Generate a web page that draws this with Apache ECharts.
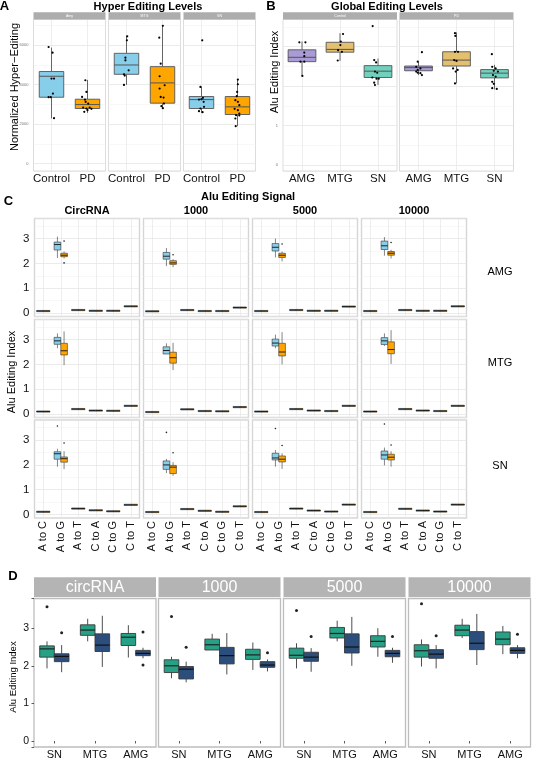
<!DOCTYPE html>
<html><head><meta charset="utf-8">
<script src="https://cdn.jsdelivr.net/npm/echarts@6/dist/echarts.min.js"></script>
<style>html,body{margin:0;padding:0;background:#fff}#c{width:533px;height:760px}</style>
</head><body><div id="c"></div>
<script>
// ---------------- DATA ----------------
// Panel A : Hyper editing levels  (box = [min, q1, median, q3, max])
const aFacets = ['Amy', 'MTG', 'SN'];
const aGroups = ['Control', 'PD'];
const aAmyBoxes = [[2290, 3360, 4420, 4660, 5870], [2570, 2790, 2990, 3260, 4235]];
const aMTGBoxes = [[3983, 4520, 4990, 5580, 6470], [2790, 3060, 4084, 4907, 6970]];
const aSNBoxes  = [[2570, 2790, 3240, 3395, 3900], [1900, 2487, 2874, 3395, 4270]];
// points: [value, jitter]
const aAmyPoints = [
  [[5900,-0.08],[5613,0.03],[4303,0],[4303,0.07],[3546,0.04],[3361,-0.08],[3361,-0.02],[2303,0.07]],
  [[4218,-0.06],[3630,-0.03],[3378,-0.15],[3244,-0.07],[3126,-0.05],[3042,0.02],[2840,-0.12],[2790,-0.03],[2840,0.06],[2622,-0.09],[2706,0],[2773,0.11]]
];
const aMTGPoints = [
  [[6437,0.02],[6235,0.01],[5361,-0.03],[5227,-0.03],[4723,0.06],[4521,-0.07],[4454,-0.05],[3983,-0.07]],
  [[6975,0.01],[6370,-0.09],[5059,-0.05],[4420,-0.08],[3966,0.06],[3798,-0.08],[3378,-0.05],[3345,0.03],[3042,0.04],[2907,-0.03],[2807,0.01]]
];
const aSNPoints = [
  [[6235,0.02],[3882,-0.03],[3244,-0.07],[3328,0.04],[3261,0],[3126,0.06],[2790,-0.03],[2655,-0.07],[2605,0.03],[2874,0.07]],
  [[4252,0.01],[4017,0.01],[3630,-0.01],[3412,-0.02],[3210,-0.06],[3126,0.01],[2958,0.05],[2773,-0.08],[2706,0.01],[2538,0.05],[2454,-0.04],[2437,0.05],[2286,-0.06],[1899,-0.05]]
];
const aTicks = [0, 2000, 4000, 6000];

// Panel B : Global editing levels
const bFacets = ['Control', 'PD'];
const bRegions = ['AMG', 'MTG', 'SN'];
const bControlBoxes = [[2.26,2.62,2.73,2.92,3.13],[2.64,2.86,2.93,3.11,3.34],[2.03,2.22,2.38,2.52,2.70]];
const bPDBoxes      = [[2.28,2.39,2.47,2.51,2.62],[2.07,2.51,2.66,2.87,3.36],[1.92,2.21,2.33,2.42,2.54]];
const bControlPoints = [
  [[3.11,-0.07],[3.11,0.09],[2.85,0.06],[2.76,0.06],[2.62,-0.04],[2.62,0.06],[2.26,0.01]],
  [[3.32,0.08],[3.13,0.02],[3.04,0.01],[2.91,-0.05],[2.87,0.05],[2.65,-0.06]],
  [[3.52,-0.14],[2.66,-0.1],[2.6,-0.05],[2.37,-0.08],[2.34,-0.02],[2.22,-0.15],[2.19,-0.04],[2.09,-0.1],[2.03,-0.08],[2.19,0.02]]
];
const bPDPoints = [
  [[2.86,0.09],[2.62,-0.02],[2.49,-0.06],[2.45,0.05],[2.41,-0.02],[2.37,-0.06],[2.33,0.05],[2.28,0.09],[2.34,-0.02]],
  [[3.34,-0.04],[3.27,-0.03],[2.87,0.04],[2.87,-0.04],[2.66,-0.06],[2.64,0],[2.45,-0.09],[2.37,-0.02],[2.41,0.03],[2.07,-0.04]],
  [[2.81,-0.07],[2.49,-0.06],[2.45,0.03],[2.39,-0.02],[2.37,0.09],[2.28,-0.04],[2.24,0.03],[2.11,-0.06],[2.06,-0.02],[1.95,-0.06],[1.93,0.06]]
];

// Panels C & D : Alu editing signal (A-to-G, Control vs PD), regions order SN, MTG, AMG
const signals = ['circRNA', '1000', '5000', '10000'];
const cColTitles = ['CircRNA', '1000', '5000', '10000'];
const dRegions = ['SN', 'MTG', 'AMG'];
const agCtrl_circRNA = [[1.93,2.23,2.45,2.53,2.65],[2.65,2.81,2.95,3.09,3.25],[2.22,2.54,2.76,2.86,3.08]];
const agPD_circRNA   = [[1.83,2.11,2.25,2.32,2.55],[1.97,2.38,2.55,2.85,3.33],[2.20,2.27,2.33,2.41,2.48]];
const agCtrl_1000    = [[1.67,1.82,2.00,2.16,2.24],[2.42,2.42,2.56,2.71,2.85],[1.89,2.17,2.29,2.44,2.62]];
const agPD_1000      = [[1.56,1.65,1.91,1.98,2.11],[1.77,2.05,2.27,2.49,2.87],[1.85,1.96,2.02,2.11,2.17]];
const agCtrl_5000    = [[1.93,2.20,2.28,2.47,2.60],[2.65,2.74,2.86,3.02,3.20],[2.24,2.50,2.65,2.80,3.00]];
const agPD_5000      = [[1.84,2.12,2.23,2.36,2.47],[2.00,2.34,2.50,2.85,3.30],[2.08,2.24,2.33,2.41,2.48]];
const agCtrl_10000   = [[1.98,2.23,2.40,2.56,2.70],[2.74,2.80,2.95,3.08,3.25],[2.31,2.56,2.71,2.90,3.06]];
const agPD_10000     = [[1.93,2.20,2.31,2.43,2.55],[2.02,2.43,2.60,2.91,3.38],[2.20,2.33,2.41,2.48,2.55]];
const outCtrl_circRNA = [[3.57],[],[]];  const outPD_circRNA = [[2.88],[],[2.90,2.02]];
const outCtrl_1000    = [[3.31],[],[]];  const outPD_1000    = [[2.49],[],[2.35]];
const outCtrl_5000    = [[3.47],[],[]];  const outPD_5000    = [[2.78],[],[2.78]];
const outCtrl_10000   = [[3.65],[],[]];  const outPD_10000   = [[2.80],[],[2.84]];

// Panel C other substitutions (A to C, A to T, C to A, C to G, C to T) per signal
const cSubs = ['A to C', 'A to G', 'A to T', 'C to A', 'C to G', 'C to T'];
const cRows = ['AMG', 'MTG', 'SN'];
const otherAMG = [[0.08,0.12,0.09,0.09,0.27],[0.07,0.12,0.08,0.08,0.22],[0.08,0.12,0.09,0.09,0.26],[0.08,0.12,0.09,0.09,0.27]];
const otherMTG = [[0.10,0.20,0.14,0.13,0.33],[0.08,0.19,0.12,0.11,0.28],[0.10,0.20,0.14,0.12,0.33],[0.10,0.20,0.14,0.12,0.33]];
const otherSN  = [[0.11,0.24,0.17,0.13,0.39],[0.10,0.22,0.15,0.11,0.33],[0.10,0.24,0.16,0.12,0.40],[0.10,0.23,0.16,0.12,0.40]];
const cAxisTicks = [0, 1, 2, 3];

// ---------------- BUILD ----------------
const FONT = "'Liberation Sans', Arial, Helvetica, sans-serif";
const grids = [], xAxes = [], yAxes = [], series = [], gfx = [];

function addPanel(rect, xCfg, yCfg, border) {
  const gi = grids.length;
  grids.push({left: rect[0], top: rect[1], width: rect[2], height: rect[3], show: true,
    backgroundColor: '#fff', borderColor: border[0], borderWidth: border[1],
    containLabel: false, outerBoundsMode: 'none'});
  xAxes.push(Object.assign({gridIndex: gi}, xCfg));
  yAxes.push(Object.assign({gridIndex: gi}, yCfg));
  return gi;
}
function boxSeries(gi, boxes, o) {
  const data = [];
  boxes.forEach((b, i) => { if (b) data.push([i].concat(b)); });
  return {type: 'custom', xAxisIndex: gi, yAxisIndex: gi, clip: false, silent: true, z: 3,
    data: data, encode: {x: 0, y: [1, 2, 3, 4, 5]},
    renderItem: function (params, api) {
      const i = api.value(0);
      const band = api.size([1, 0])[0];
      const cx = api.coord([i, 0])[0] + o.off * band;
      const w = o.w * band;
      const yy = k => api.coord([i, api.value(k)])[1];
      const lo = yy(1), q1 = yy(2), md = yy(3), q3 = yy(4), hi = yy(5);
      const fill = Array.isArray(o.fill) ? o.fill[i] : o.fill;
      const h = Math.max(q1 - q3, o.minH || 0.8);
      const top = (q1 - q3) < (o.minH || 0.8) ? md - h / 2 : q3;
      return {type: 'group', children: [
        {type: 'line', shape: {x1: cx, y1: hi, x2: cx, y2: q3}, style: {stroke: o.stroke, lineWidth: o.lw}},
        {type: 'line', shape: {x1: cx, y1: q1, x2: cx, y2: lo}, style: {stroke: o.stroke, lineWidth: o.lw}},
        {type: 'rect', shape: {x: cx - w / 2, y: top, width: w, height: h}, style: {fill: fill, stroke: o.stroke, lineWidth: o.lw}},
        {type: 'line', shape: {x1: cx - w / 2, y1: md, x2: cx + w / 2, y2: md}, style: {stroke: o.med, lineWidth: o.mlw}}
      ]};
    }};
}
function pointSeries(gi, pts, o) {
  return {type: 'custom', xAxisIndex: gi, yAxisIndex: gi, clip: false, silent: true, z: 4,
    data: pts, encode: {x: 0, y: 1},
    renderItem: function (params, api) {
      const i = api.value(0);
      const band = api.size([1, 0])[0];
      const p = api.coord([i, api.value(1)]);
      return {type: 'circle', shape: {cx: p[0] + (o.off + api.value(2)) * band, cy: p[1], r: o.r}, style: {fill: o.color}};
    }};
}
function toPts(groupPoints) {
  const out = [];
  groupPoints.forEach((list, g) => list.forEach(p => out.push([g, p[0], p[1]])));
  return out;
}
function txt(x, y, text, size, opt) {
  opt = opt || {};
  return {type: 'text', x: x, y: y, rotation: opt.rot || 0, silent: true, z: 20,
    style: {text: text, fill: opt.color || '#000', font: (opt.bold ? 'bold ' : '') + size + 'px ' + FONT,
      align: opt.align || 'center', verticalAlign: 'middle', textAlign: opt.align || 'center', textVerticalAlign: 'middle'}};
}
function rect(x, y, w, h, fill) {
  return {type: 'rect', shape: {x: x, y: y, width: w, height: h}, style: {fill: fill}, silent: true, z: 15};
}
const majorFmt = step => (v => (Math.abs(v / step - Math.round(v / step)) < 1e-6 ? String(Math.round(v)) : ''));
const gridMajor = {lineStyle: {color: '#e2e2e2', width: 0.7}};
const gridMinor = {show: true, lineStyle: {color: '#f0f0f0', width: 0.5}};

// ----- Panel A -----
const aBoxes = [aAmyBoxes, aMTGBoxes, aSNBoxes];
const aPoints = [aAmyPoints, aMTGPoints, aSNPoints];
const aLefts = [33.5, 108.5, 183.5];
aFacets.forEach((f, k) => {
  const gi = addPanel([aLefts[k], 19.5, 72, 151.5], {
    type: 'category', data: aGroups, axisLine: {show: false}, axisTick: {show: false},
    axisLabel: {fontSize: 11.5, color: '#111', margin: 2, fontFamily: FONT, interval: 0, hideOverlap: false},
    splitLine: {show: true, alignWithLabel: true, interval: 0, lineStyle: {color: '#e6e6e6', width: 0.7}}
  }, {
    type: 'value', min: -369, max: 7290, minInterval: aTicks[1], maxInterval: aTicks[1],
    axisLine: {show: false}, axisTick: {show: false},
    axisLabel: {show: k === 0, fontSize: 4, color: '#777', margin: 5, fontFamily: FONT, formatter: majorFmt(aTicks[1])},
    splitLine: gridMajor, minorTick: {show: false, splitNumber: 2}, minorSplitLine: gridMinor
  }, ['#cfcfcf', 0.7]);
  series.push(boxSeries(gi, aBoxes[k], {off: 0, w: 0.68, fill: ['#87CEEB', '#FFA500'], stroke: '#555', med: '#555', lw: 0.9, mlw: 1}));
  series.push(pointSeries(gi, toPts(aPoints[k]), {off: 0, r: 1.1, color: '#000'}));
  gfx.push(rect(aLefts[k], 12.3, 72, 7.2, '#adadad'));
  gfx.push(txt(aLefts[k] + 36, 16, f, 3.5, {color: '#fff'}));
});

// ----- Panel B -----
const bLefts = [283, 399.5];
const bBoxes = [bControlBoxes, bPDBoxes];
const bPoints = [bControlPoints, bPDPoints];
bFacets.forEach((f, k) => {
  const gi = addPanel([bLefts[k], 19.5, 114, 151.5], {
    type: 'category', data: bRegions, axisLine: {show: false}, axisTick: {show: false},
    axisLabel: {fontSize: 11.5, color: '#111', margin: 2, fontFamily: FONT, interval: 0, hideOverlap: false},
    splitLine: {show: true, alignWithLabel: true, interval: 0, lineStyle: {color: '#e6e6e6', width: 0.7}}
  }, {
    type: 'value', min: -0.144, max: 3.686, minInterval: 1, maxInterval: 1,
    axisLine: {show: false}, axisTick: {show: false},
    axisLabel: {show: k === 0, fontSize: 4, color: '#777', margin: 5, fontFamily: FONT, formatter: majorFmt(1)},
    splitLine: gridMajor, minorTick: {show: false, splitNumber: 2}, minorSplitLine: gridMinor
  }, ['#cfcfcf', 0.7]);
  series.push(boxSeries(gi, bBoxes[k], {off: 0, w: 0.73, fill: ['#A99BD6', '#E3BF6E', '#72D1BE'], stroke: '#555', med: '#555', lw: 0.9, mlw: 1}));
  const pts = [];
  bPoints[k].forEach((list, c) => list.forEach(p => pts.push([c, p[0], p[1]])));
  series.push(pointSeries(gi, pts, {off: 0, r: 1.1, color: '#000'}));
  gfx.push(rect(bLefts[k], 12.3, 114, 7.2, '#adadad'));
  gfx.push(txt(bLefts[k] + 57, 16, f, 3.5, {color: '#fff'}));
});

// ----- Panel C -----
const agCtrl = [agCtrl_circRNA, agCtrl_1000, agCtrl_5000, agCtrl_10000];
const agPD = [agPD_circRNA, agPD_1000, agPD_5000, agPD_10000];
const outCtrl = [outCtrl_circRNA, outCtrl_1000, outCtrl_5000, outCtrl_10000];
const outPD = [outPD_circRNA, outPD_1000, outPD_5000, outPD_10000];
const otherByRow = [otherAMG, otherMTG, otherSN];
const otherIdx = [0, 2, 3, 4, 5];
const cLefts = [34.5, 143.5, 252.5, 361.5];
const cTops = [218.5, 319.5, 420];
const cRowLabelY = [272, 363, 466];
cRows.forEach((region, r) => {
  const di = dRegions.indexOf(region);
  signals.forEach((s, c) => {
    const bottom = r === cRows.length - 1;
    const gi = addPanel([cLefts[c], cTops[r], 105, 98], {
      type: 'category', data: cSubs, axisLine: {show: false}, axisTick: {show: false},
      axisLabel: {show: bottom, rotate: 90, fontSize: 11, color: '#111', margin: 3, fontFamily: FONT, interval: 0, hideOverlap: false},
      splitLine: {show: true, alignWithLabel: true, interval: 0, lineStyle: {color: '#e6e6e6', width: 0.7}}
    }, {
      type: 'value', min: -0.14, max: 3.81, minInterval: 1, maxInterval: 1,
      axisLine: {show: false}, axisTick: {show: false},
      axisLabel: {show: c === 0, fontSize: 11.5, color: '#111', margin: 5, fontFamily: FONT, formatter: majorFmt(1)},
      splitLine: gridMajor, minorTick: {show: false, splitNumber: 2}, minorSplitLine: gridMinor
    }, ['#d6d6d6', 1.4]);
    const ctrl = [], pd = [];
    ctrl[1] = agCtrl[c][di]; pd[1] = agPD[c][di];
    otherByRow[r][c].forEach((v, k) => { ctrl[otherIdx[k]] = [v, v, v, v, v]; pd[otherIdx[k]] = [v, v, v, v, v]; });
    series.push(boxSeries(gi, ctrl, {off: -0.19, w: 0.38, fill: '#87CEEB', stroke: '#333', med: '#111', lw: 0.6, mlw: 0.9, minH: 1.2}));
    series.push(boxSeries(gi, pd, {off: 0.19, w: 0.38, fill: '#FFA500', stroke: '#333', med: '#111', lw: 0.6, mlw: 0.9, minH: 1.2}));
    series.push(pointSeries(gi, outCtrl[c][di].map(v => [1, v, 0]), {off: -0.19, r: 0.8, color: '#222'}));
    series.push(pointSeries(gi, outPD[c][di].map(v => [1, v, 0]), {off: 0.19, r: 0.8, color: '#222'}));
    if (r === 0) gfx.push(txt(cLefts[c] + 52.5, 211, cColTitles[c], 11, {bold: true}));
  });
  gfx.push(txt(500, cRowLabelY[r], region, 11));
});

// ----- Panel D -----
const dLefts = [34, 158.5, 283.5, 408.5];
signals.forEach((s, c) => {
  const gi = addPanel([dLefts[c], 598.5, 122, 148.5], {
    type: 'category', data: dRegions, axisLine: {show: false},
    axisTick: {show: true, alignWithLabel: true, interval: 0, length: 2.5, lineStyle: {color: '#333', width: 0.8}},
    axisLabel: {fontSize: 11, color: '#111', margin: 2, fontFamily: FONT, interval: 0, hideOverlap: false},
    splitLine: {show: false}
  }, {
    type: 'value', min: -0.16, max: 3.79, minInterval: 1, maxInterval: 1,
    axisLine: {show: false},
    axisTick: {show: c === 0, length: 2.5, lineStyle: {color: '#333', width: 0.8}},
    axisLabel: {show: c === 0, fontSize: 10.5, color: '#111', margin: 5, fontFamily: FONT, formatter: majorFmt(1)},
    splitLine: {show: false}
  }, ['#bdbdbd', 1.3]);
  series.push(boxSeries(gi, agCtrl[c], {off: -0.18, w: 0.36, fill: '#25A186', stroke: '#3a3a3a', med: '#222', lw: 0.9, mlw: 1.2}));
  series.push(boxSeries(gi, agPD[c], {off: 0.18, w: 0.36, fill: '#2B4E7D', stroke: '#3a3a3a', med: '#111', lw: 0.9, mlw: 1.2}));
  const oc = [], op = [];
  outCtrl[c].forEach((l, i) => l.forEach(v => oc.push([i, v, 0])));
  outPD[c].forEach((l, i) => l.forEach(v => op.push([i, v, 0])));
  series.push(pointSeries(gi, oc, {off: -0.18, r: 1.5, color: '#222'}));
  series.push(pointSeries(gi, op, {off: 0.18, r: 1.5, color: '#222'}));
  gfx.push(rect(dLefts[c], 577.3, 122, 19.7, '#b4b4b4'));
  gfx.push(txt(dLefts[c] + 61, 587.5, s, 16, {color: '#fff'}));
});

// ----- Titles & labels -----
gfx.push(txt(4.5, 6.5, 'A', 13, {bold: true}));
gfx.push(txt(271, 6.5, 'B', 13, {bold: true}));
gfx.push(txt(8.5, 201, 'C', 13, {bold: true}));
gfx.push(txt(13, 576.3, 'D', 13, {bold: true}));
gfx.push(txt(148, 6.5, 'Hyper Editing Levels', 11, {bold: true}));
gfx.push(txt(387, 6.5, 'Global Editing Levels', 11, {bold: true}));
gfx.push(txt(248, 197, 'Alu Editing Signal', 11, {bold: true}));
gfx.push(txt(15, 87, 'Normalized Hyper\u2212Editing', 11, {rot: Math.PI / 2}));
gfx.push(txt(274.5, 72, 'Alu Editing Index', 11, {rot: Math.PI / 2}));
gfx.push(txt(12, 372, 'Alu Editing Index', 11, {rot: Math.PI / 2}));
gfx.push(txt(13, 677, 'Alu Editing Index', 9.5, {rot: Math.PI / 2}));

const chart = echarts.init(document.getElementById('c'), null, {renderer: 'canvas'});
chart.setOption({
  animation: false,
  backgroundColor: '#fff',
  grid: grids, xAxis: xAxes, yAxis: yAxes, series: series, graphic: gfx
});
</script>
</body></html>
